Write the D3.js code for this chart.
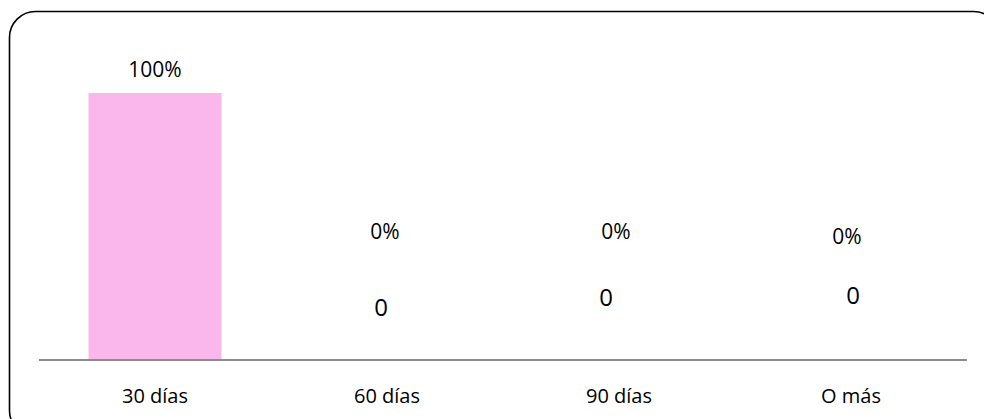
<!DOCTYPE html>
<html>
<head>
<meta charset="utf-8">
<script src="https://cdn.jsdelivr.net/npm/d3@7"></script>
<style>
  html, body { margin: 0; padding: 0; background: #fff; }
  svg { display: block; }
  text { font-family: "Open Sans", "Noto Sans", sans-serif; fill: #000; }
</style>
</head>
<body>
<svg id="chart" width="984" height="419"></svg>
<script>
// ---- data ----
const categories = ["30 días", "60 días", "90 días", "O más"];
const percentValues = [1, 0, 0, 0];
const percentLabels = ["100%", "0%", "0%", "0%"];
const countLabels = [null, "0", "0", "0"];
// label offsets as drawn in the original (pixels above baseline for the zero bars)
const percentLabelDy = [-16, -121, -121, -116];
const percentLabelDx = [0, -2, -3, -4];
const countLabelDy = [null, -44, -54, -56];
const countLabelDx = [null, -6, -13, 2];

const svg = d3.select("#chart");

// rounded outer frame
svg.append("rect")
  .attr("x", 9.5).attr("y", 11.5)
  .attr("width", 990).attr("height", 425)
  .attr("rx", 26).attr("ry", 26)
  .attr("fill", "none").attr("stroke", "#000").attr("stroke-width", 1.6);

const plot = { left: 39, right: 967, top: 93, bottom: 360 };

const x = d3.scaleBand()
  .domain(categories)
  .range([plot.left, plot.right])
  .paddingInner(0.427)
  .paddingOuter(0.2135);

const y = d3.scaleLinear()
  .domain([0, 1])
  .range([plot.bottom, plot.top]);

// bars
svg.append("g").selectAll("rect")
  .data(categories)
  .join("rect")
  .attr("x", d => x(d))
  .attr("width", x.bandwidth())
  .attr("y", (d, i) => y(percentValues[i]))
  .attr("height", (d, i) => y(0) - y(percentValues[i]))
  .attr("fill", "#F9B7EB");

// x axis
const xAxis = d3.axisBottom(x).tickSize(0).tickPadding(0);
const gx = svg.append("g")
  .attr("transform", `translate(0,${plot.bottom})`)
  .call(xAxis);
gx.select(".domain").attr("stroke", "#8c8c8c").attr("stroke-width", 2)
  .attr("d", `M${plot.left},0H${plot.right}`);
gx.selectAll(".tick text")
  .attr("dy", null)
  .attr("y", 43)
  .style("font-family", '"Open Sans", sans-serif')
  .style("font-size", "20px")
  .attr("fill", "#000");

// percent labels
svg.append("g").selectAll("text")
  .data(categories)
  .join("text")
  .attr("x", (d, i) => x(d) + x.bandwidth() / 2 + percentLabelDx[i])
  .attr("y", (d, i) => y(percentValues[i]) + percentLabelDy[i])
  .attr("text-anchor", "middle")
  .style("font-size", "21px")
  .text((d, i) => percentLabels[i]);

// count labels
svg.append("g").selectAll("text")
  .data(categories.filter((d, i) => countLabels[i] !== null))
  .join("text")
  .attr("x", d => { const i = categories.indexOf(d); return x(d) + x.bandwidth() / 2 + countLabelDx[i]; })
  .attr("y", d => { const i = categories.indexOf(d); return y(percentValues[i]) + countLabelDy[i]; })
  .attr("text-anchor", "middle")
  .style("font-size", "24px")
  .text(d => countLabels[categories.indexOf(d)]);
</script>
</body>
</html>
